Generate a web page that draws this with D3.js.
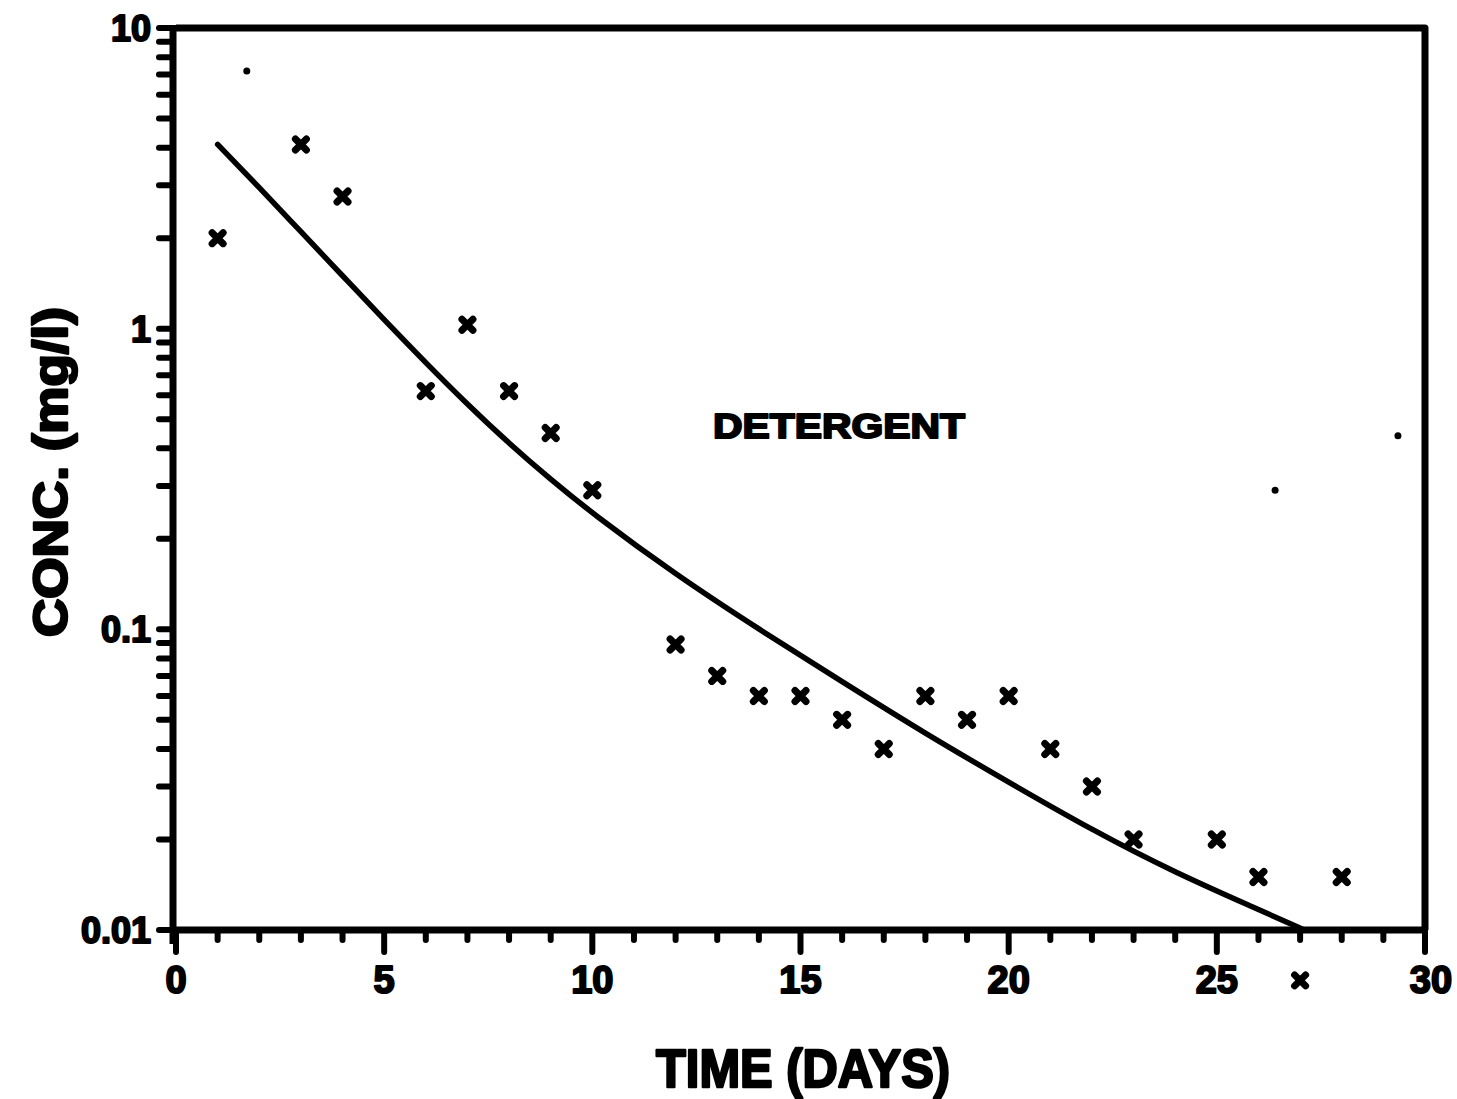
<!DOCTYPE html>
<html lang="en">
<head>
<meta charset="UTF-8">
<script src="https://d3js.org/d3.v7.min.js"></script>
<title>Detergent</title>
<style>
    body { margin: 0; background: #fff; }
    text { font-family: 'Liberation Sans', Arial, sans-serif; font-weight: bold; fill: #000; stroke: #000; stroke-linejoin: round; }
</style>
</head>
<body>
<svg id="canvas" width="1457" height="1099"></svg>
<script>
// measured points (x marks)
let days = [1, 3, 4, 6, 7, 8, 9, 10, 12, 13, 14, 15, 16, 17, 18, 19, 20, 21, 22, 23, 25, 26, 27, 28]
let conc = [2.0, 4.1, 2.75, 0.62, 1.03, 0.62, 0.45, 0.29, 0.089, 0.07, 0.06, 0.06, 0.05, 0.04, 0.06, 0.05, 0.06, 0.04, 0.03, 0.02, 0.02, 0.015, 0.0068, 0.015]

// fitted curve
let fitDays = [1, 2, 3, 4, 5, 6, 7, 8, 9, 10, 12, 14, 16, 18, 20, 22, 24, 26, 27.1]
let fitConc = [4.1, 2.95, 2.1, 1.5, 1.07, 0.77, 0.56, 0.415, 0.315, 0.243, 0.152, 0.1, 0.067, 0.045, 0.031, 0.0215, 0.0155, 0.0117, 0.01]

// stray dots on the original plot
let speckDays = [1.7, 26.4, 29.35]
let speckConc = [7.2, 0.29, 0.44]

let xTicks = [0, 5, 10, 15, 20, 25, 30]
let yTicks = [0.01, 0.1, 1, 10]
let yTickLabels = ['0.01', '0.1', '1', '10']

let svg = d3.select('#canvas')

let x = d3.scaleLinear().domain([0, 30]).range([176, 1425])
let y = d3.scaleLog().domain([0.01, 10]).range([930, 28])

// frame (top and right)
svg.append('path')
    .attr('d', `M${x(0)},${y(10)}H${x(30)}V${y(0.01)}`)
    .attr('fill', 'none')
    .attr('stroke', '#000')
    .attr('stroke-width', 7)
    .attr('stroke-linejoin', 'round')

// x axis
let minorX = d3.range(0, 31).filter(d => d % 5 !== 0)
let xAxis = svg.append('g').attr('transform', `translate(0,${y(0.01)})`)
xAxis.append('line').attr('x1', x(0) - 4).attr('x2', x(30)).attr('stroke', '#000').attr('stroke-width', 7)
xAxis.selectAll('.major').data(xTicks).enter().append('line')
    .attr('x1', d => x(d)).attr('x2', d => x(d)).attr('y1', 0).attr('y2', 22)
    .attr('stroke', '#000').attr('stroke-width', 6).attr('stroke-linecap', 'round')
xAxis.selectAll('.minor').data(minorX).enter().append('line')
    .attr('x1', d => x(d)).attr('x2', d => x(d)).attr('y1', 0).attr('y2', 10)
    .attr('stroke', '#000').attr('stroke-width', 6).attr('stroke-linecap', 'round')
xAxis.selectAll('text').data(xTicks).enter().append('text')
    .attr('x', d => x(d) + (d === 30 ? 6 : 0)).attr('y', 63)
    .attr('text-anchor', 'middle')
    .attr('font-size', 38)
    .attr('stroke-width', 2)
    .text(d => d)

// y axis
let minorY = []
for (let dec of [0.01, 0.1, 1]) {
    for (let m = 2; m <= 9; m++) minorY.push(dec * m)
}
let yAxis = svg.append('g').attr('transform', `translate(${x(0) - 3},0)`)
yAxis.append('line').attr('y1', y(10) - 3).attr('y2', y(0.01) + 14).attr('stroke', '#000').attr('stroke-width', 7)
yAxis.selectAll('.minor').data(minorY.concat(yTicks)).enter().append('line')
    .attr('y1', d => y(d)).attr('y2', d => y(d)).attr('x1', 0).attr('x2', -14)
    .attr('stroke', '#000').attr('stroke-width', 6).attr('stroke-linecap', 'round')
yAxis.selectAll('text').data(yTicks).enter().append('text')
    .attr('x', -22).attr('y', d => y(d) + 13)
    .attr('text-anchor', 'end')
    .attr('font-size', 36)
    .attr('stroke-width', 2)
    .text((d, i) => yTickLabels[i])

// fitted line
let line = d3.line()
    .x((d, i) => x(fitDays[i]))
    .y((d, i) => y(fitConc[i]))
    .curve(d3.curveBasis)
svg.append('path')
    .datum(fitDays)
    .attr('d', line)
    .attr('fill', 'none')
    .attr('stroke', '#000')
    .attr('stroke-width', 5.5)
    .attr('stroke-linecap', 'round')

// x markers
let s = 5.5
svg.selectAll('.pt').data(days).enter().append('path')
    .attr('class', 'pt')
    .attr('transform', (d, i) => `translate(${x(d)},${y(conc[i])})`)
    .attr('d', `M${-s},${-s}L${s},${s}M${-s},${s}L${s},${-s}`)
    .attr('stroke', '#000')
    .attr('stroke-width', 7)
    .attr('stroke-linecap', 'round')

svg.selectAll('.speck').data(speckDays).enter().append('circle')
    .attr('cx', d => x(d))
    .attr('cy', (d, i) => y(speckConc[i]))
    .attr('r', 3.5)
    .attr('fill', '#000')

// labels
svg.append('text')
    .attr('x', 713).attr('y', 438)
    .attr('font-size', 35)
    .attr('stroke-width', 2)
    .attr('textLength', 252).attr('lengthAdjust', 'spacingAndGlyphs')
    .text('DETERGENT')

svg.append('text')
    .attr('x', 656).attr('y', 1087)
    .attr('font-size', 54)
    .attr('stroke-width', 2.5)
    .attr('textLength', 294).attr('lengthAdjust', 'spacingAndGlyphs')
    .text('TIME (DAYS)')

svg.append('text')
    .attr('transform', 'translate(67,637) rotate(-90)')
    .attr('font-size', 48)
    .attr('stroke-width', 2.5)
    .attr('textLength', 330).attr('lengthAdjust', 'spacingAndGlyphs')
    .text('CONC. (mg/l)')
</script>
</body>
</html>
